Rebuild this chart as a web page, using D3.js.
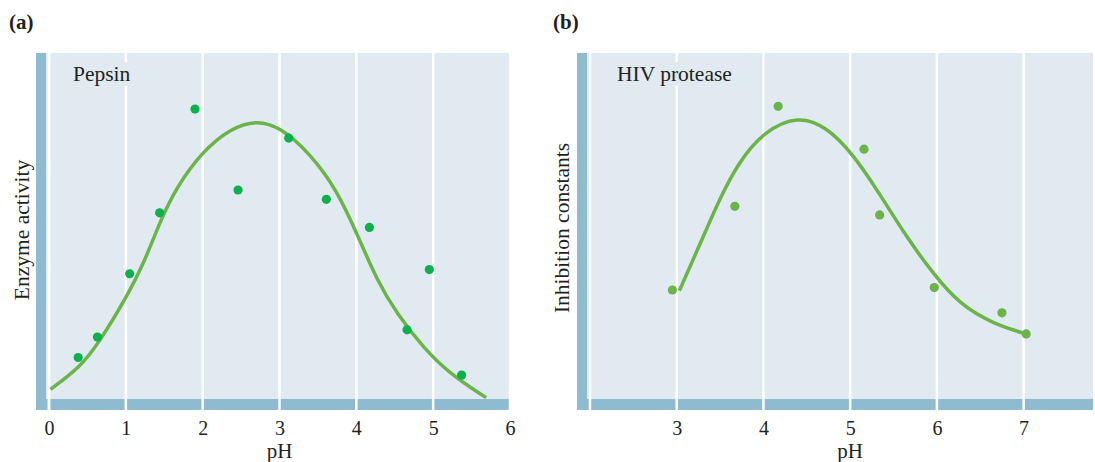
<!DOCTYPE html>
<html>
<head>
<meta charset="utf-8">
<script src="https://cdn.jsdelivr.net/npm/d3@7"></script>
<style>
  body { margin: 0; background: #fff; }
  svg { display: block; font-family: "Liberation Serif", "DejaVu Serif", serif; }
</style>
</head>
<body>
<svg id="chart" width="1095" height="462"></svg>
<script>
// pepsin (a)
const pepsinPH = [0.38, 0.63, 1.05, 1.44, 1.90, 2.46, 3.12, 3.61, 4.17, 4.66, 4.95, 5.37];
const pepsinActivity = [12.0, 17.9, 36.2, 53.8, 83.8, 60.4, 75.4, 57.7, 49.6, 20.0, 37.4, 6.9];
const pepsinCurvePH = [0.02, 0.40, 0.64, 1.01, 1.25, 1.45, 1.66, 1.99, 2.36, 2.70, 3.01, 3.40, 3.75, 4.01, 4.27, 4.53, 4.87, 5.22, 5.69];
const pepsinCurveVal = [2.8, 9.1, 15.9, 29.4, 40.0, 51.6, 61.2, 71.4, 78.2, 80.6, 78.6, 70.9, 60.3, 47.7, 34.2, 24.6, 14.9, 7.2, 0.4];
const pepsinTicks = [0, 1, 2, 3, 4, 5, 6];

// HIV protease (b)
const hivPH = [2.95, 3.67, 4.17, 5.16, 5.34, 5.97, 6.75, 7.03];
const hivInhibition = [31.5, 55.7, 84.6, 72.2, 53.2, 32.2, 24.9, 18.8];
const hivCurvePH = [3.03, 3.27, 3.50, 3.73, 4.00, 4.40, 4.73, 5.03, 5.34, 5.65, 5.96, 6.26, 6.65, 7.03];
const hivCurveVal = [31.3, 44.8, 58.3, 69.0, 77.2, 82.0, 78.6, 70.9, 59.3, 46.8, 36.1, 27.4, 21.7, 18.8];
const hivTicks = [3, 4, 5, 6, 7];

const bgColor = "#e1eaf1",
      stripColor = "#8fbbd0",
      curveColor = "#6ab44a";

const plotTop = 53, plotBottom = 410, stripH = 11, stripW = 10;

const svg = d3.select('#chart');

// shared y scale (no ticks shown)
const y = d3.scaleLinear()
            .domain([0, 100])
            .range([plotBottom - stripH, plotTop]);

function drawPanel(opt) {
    const g = svg.append("g");
    const x = d3.scaleLinear()
                .domain(opt.domain)
                .range(opt.range);
    const left = opt.range[0] - 13;

    //background + strips
    g.append("rect")
        .attr("x", left).attr("y", plotTop)
        .attr("width", opt.range[1] - left).attr("height", plotBottom - plotTop)
        .attr("fill", bgColor);
    g.append("rect")
        .attr("x", left).attr("y", plotBottom - stripH)
        .attr("width", opt.range[1] - left).attr("height", stripH)
        .attr("fill", stripColor);
    g.append("rect")
        .attr("x", left).attr("y", plotTop)
        .attr("width", stripW).attr("height", plotBottom - plotTop)
        .attr("fill", stripColor);

    //gridlines
    g.selectAll(".grid")
        .data([opt.domain[0]].concat(opt.ticks))
        .enter()
        .append("line")
        .attr("x1", d => x(d)).attr("x2", d => x(d))
        .attr("y1", plotTop).attr("y2", plotBottom)
        .attr("stroke", "#fff")
        .attr("stroke-width", 2.5);

    //panel name with a box behind it
    const name = g.append("text")
        .attr("x", opt.nameX).attr("y", 81)
        .style("font-size", "21.5px")
        .attr("fill", "#231f20")
        .text(opt.name);
    const bb = name.node().getBBox();
    g.insert("rect", "text")
        .attr("x", bb.x - 4).attr("y", bb.y)
        .attr("width", bb.width + 8).attr("height", bb.height)
        .attr("fill", bgColor);

    //curve
    const line = d3.line()
        .x((d, i) => x(opt.curveX[i]))
        .y(d => y(d))
        .curve(d3.curveBasis);
    g.append("path")
        .datum(opt.curveY)
        .attr("d", line)
        .attr("fill", "none")
        .attr("stroke", curveColor)
        .attr("stroke-width", 3.5);

    //points
    g.selectAll(".dot")
        .data(opt.px)
        .enter()
        .append("circle")
        .attr("cx", d => x(d))
        .attr("cy", (d, i) => y(opt.py[i]))
        .attr("r", 4.6)
        .attr("fill", opt.dotColor);

    //x axis
    const xAxis = d3.axisBottom(x)
        .tickValues(opt.ticks)
        .tickSize(0)
        .tickPadding(11)
        .tickFormat(d3.format("d"));
    const axisG = g.append("g")
        .attr("transform", `translate(0,${plotBottom})`)
        .call(xAxis);
    axisG.select(".domain").remove();
    axisG.selectAll("text")
        .style("font-family", "Liberation Serif, serif")
        .style("font-size", "20px")
        .attr("fill", "#231f20");

    g.append("text")
        .attr("x", x(opt.labelAt)).attr("y", 458)
        .attr("text-anchor", "middle")
        .style("font-size", "21px")
        .attr("fill", "#231f20")
        .text("pH");

    g.append("text")
        .attr("transform", `translate(${opt.yLabelX},${opt.yLabelY})rotate(-90)`)
        .attr("text-anchor", "middle")
        .style("font-size", "21.5px")
        .attr("fill", "#231f20")
        .text(opt.yLabel);

    g.append("text")
        .attr("x", opt.tagX).attr("y", 29)
        .style("font-size", "21px")
        .style("font-weight", "bold")
        .attr("fill", "#231f20")
        .text(opt.tag);
}

drawPanel({
    domain: [0, 6], range: [49, 510], ticks: pepsinTicks,
    px: pepsinPH, py: pepsinActivity, curveX: pepsinCurvePH, curveY: pepsinCurveVal,
    dotColor: "#0db14b", name: "Pepsin", nameX: 73, labelAt: 3,
    yLabel: "Enzyme activity", yLabelX: 29, yLabelY: 230,
    tag: "(a)", tagX: 9
});

drawPanel({
    domain: [2, 7.8], range: [590, 1093], ticks: hivTicks,
    px: hivPH, py: hivInhibition, curveX: hivCurvePH, curveY: hivCurveVal,
    dotColor: "#6ab44a", name: "HIV protease", nameX: 617, labelAt: 5,
    yLabel: "Inhibition constants", yLabelX: 569, yLabelY: 228,
    tag: "(b)", tagX: 553
});
</script>
</body>
</html>
